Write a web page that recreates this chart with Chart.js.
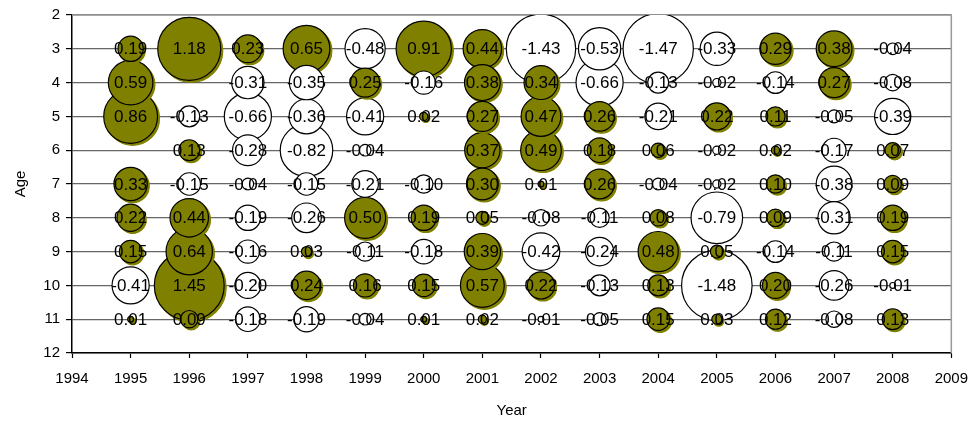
<!DOCTYPE html>
<html>
<head>
<meta charset="utf-8">
<script src="https://cdn.jsdelivr.net/npm/chart.js@4.4.1/dist/chart.umd.min.js"></script>
<style>
  html, body { margin: 0; padding: 0; background: #fff; }
  #wrap { width: 980px; height: 423px; }
</style>
</head>
<body>
<div id="wrap"><canvas id="c" width="980" height="423"></canvas></div>
<script>
// Residuals by age (rows) and year (columns); null = no observation
const years = [1995, 1996, 1997, 1998, 1999, 2000, 2001, 2002, 2003, 2004, 2005, 2006, 2007, 2008];
const ages  = [3, 4, 5, 6, 7, 8, 9, 10, 11];

const age3  = [0.19, 1.18, 0.23, 0.65, -0.48, 0.91, 0.44, -1.43, -0.53, -1.47, -0.33, 0.29, 0.38, -0.04];
const age4  = [0.59, null, -0.31, -0.35, 0.25, -0.16, 0.38, 0.34, -0.66, -0.13, -0.02, -0.14, 0.27, -0.08];
const age5  = [0.86, -0.13, -0.66, -0.36, -0.41, 0.02, 0.27, 0.47, 0.26, -0.21, 0.22, 0.11, -0.05, -0.39];
const age6  = [null, 0.13, -0.28, -0.82, -0.04, null, 0.37, 0.49, 0.18, 0.06, -0.02, 0.02, -0.17, 0.07];
const age7  = [0.33, -0.15, -0.04, -0.15, -0.21, -0.10, 0.30, 0.01, 0.26, -0.04, -0.02, 0.10, -0.38, 0.09];
const age8  = [0.22, 0.44, -0.19, -0.26, 0.50, 0.19, 0.05, -0.08, -0.11, 0.08, -0.79, 0.09, -0.31, 0.19];
const age9  = [0.15, 0.64, -0.16, 0.03, -0.11, -0.18, 0.39, -0.42, -0.24, 0.48, 0.05, -0.14, -0.11, 0.15];
const age10 = [-0.41, 1.45, -0.20, 0.24, 0.16, 0.15, 0.57, 0.22, -0.13, 0.13, -1.48, 0.20, -0.26, -0.01];
const age11 = [0.01, 0.09, -0.18, -0.19, -0.04, 0.01, 0.02, -0.01, -0.05, 0.15, 0.03, 0.12, -0.08, 0.13];

const rows = [age3, age4, age5, age6, age7, age8, age9, age10, age11];

const xTicks = { min: 1994, max: 2009, step: 1 };
const yTicks = { min: 2, max: 12, step: 1 };

const OLIVE = '#808000';
const BUBBLE_SCALE = 29; // pixels of radius per sqrt(|value|): bubble area tracks |value|

// Build bubble points; larger bubbles first so small ones stay visible on top
const points = [];
ages.forEach((age, i) => {
  rows[i].forEach((v, j) => {
    if (v === null) return;
    points.push({ x: years[j], y: age, v: v, r: BUBBLE_SCALE * Math.sqrt(Math.abs(v)) });
  });
});
points.sort((a, b) => Math.abs(b.v) - Math.abs(a.v));

// Positive bubbles get a solid olive drop shadow down-right
const baseDraw = Chart.PointElement.prototype.draw;
Chart.PointElement.prototype.draw = function (ctx, area) {
  if (this.options.backgroundColor === OLIVE) {
    ctx.save();
    ctx.shadowColor = OLIVE;
    ctx.shadowOffsetX = 2;
    ctx.shadowOffsetY = 2;
    ctx.shadowBlur = 0;
    baseDraw.call(this, ctx, area);
    ctx.restore();
  } else {
    baseDraw.call(this, ctx, area);
  }
};

const frame = {
  id: 'frame',
  beforeDatasetsDraw(chart) {
    const { ctx, chartArea: a } = chart;
    ctx.save();
    ctx.strokeStyle = '#9a9a9a';
    ctx.lineWidth = 1.5;
    ctx.beginPath();
    ctx.moveTo(a.left, a.top);
    ctx.lineTo(a.right, a.top);
    ctx.lineTo(a.right, a.bottom);
    ctx.stroke();
    ctx.restore();
  }
};

const valueLabels = {
  id: 'valueLabels',
  afterDatasetsDraw(chart) {
    const ctx = chart.ctx;
    const meta = chart.getDatasetMeta(0);
    const data = chart.data.datasets[0].data;
    ctx.save();
    ctx.font = '17px "Liberation Sans", Arial, sans-serif';
    ctx.fillStyle = '#000';
    ctx.textAlign = 'center';
    ctx.textBaseline = 'middle';
    meta.data.forEach((el, i) => {
      ctx.fillText(data[i].v.toFixed(2), el.x, el.y + 1);
    });
    ctx.restore();
  }
};

const tickFont = { family: '"Liberation Sans", Arial, sans-serif', size: 15 };

new Chart(document.getElementById('c'), {
  type: 'bubble',
  data: {
    datasets: [{
      data: points,
      backgroundColor: ctx => (ctx.raw && ctx.raw.v > 0 ? OLIVE : '#ffffff'),
      borderColor: '#000',
      borderWidth: 1.2,
      hoverRadius: 0,
      clip: 0
    }]
  },
  options: {
    responsive: false,
    animation: false,
    events: [],
    layout: { autoPadding: false, padding: { top: 15, right: 28, left: 0, bottom: 0 } },
    plugins: { legend: { display: false }, tooltip: { enabled: false } },
    scales: {
      x: {
        type: 'linear',
        min: xTicks.min,
        max: xTicks.max,
        afterFit: s => { s.height = 70; },
        ticks: {
          stepSize: xTicks.step,
          color: '#000',
          font: tickFont,
          padding: 12,
          maxRotation: 0,
          callback: v => String(v)
        },
        grid: { drawOnChartArea: false, drawTicks: true, tickLength: 5, tickColor: '#000', tickWidth: 1.2 },
        border: { color: '#000', width: 1.5 },
        title: { display: true, text: 'Year', color: '#000', font: tickFont, padding: { top: 0, bottom: 3 } }
      },
      y: {
        type: 'linear',
        reverse: true,
        min: yTicks.min,
        max: yTicks.max,
        afterFit: s => { s.width = 72; },
        ticks: {
          stepSize: yTicks.step,
          color: '#000',
          font: tickFont,
          padding: 6
        },
        grid: { color: '#666', lineWidth: 1.2, drawTicks: true, tickLength: 6, tickColor: '#000' },
        border: { color: '#000', width: 1.5 },
        title: { display: true, text: 'Age', color: '#000', font: tickFont, padding: { top: 12, bottom: 0 } }
      }
    }
  },
  plugins: [frame, valueLabels]
});
</script>
</body>
</html>
